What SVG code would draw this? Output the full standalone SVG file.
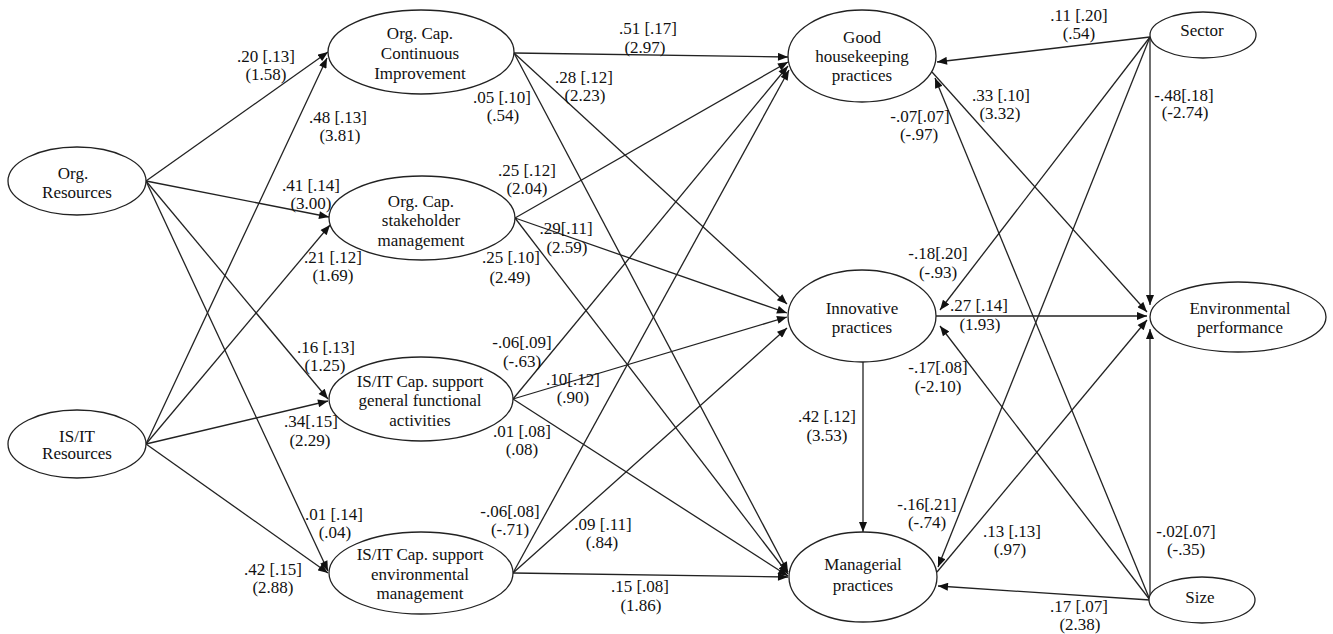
<svg xmlns="http://www.w3.org/2000/svg" width="1333" height="634" viewBox="0 0 1333 634">
<style>
.node ellipse{fill:#fff;stroke:#222;stroke-width:1.3}
.node text{font-size:17px;fill:#111;text-anchor:middle}
.edge line{stroke:#222;stroke-width:1.3;marker-end:url(#arr)}
.lbl text{font-size:17px;fill:#111;text-anchor:middle}
text{font-family:Liberation Serif,Times New Roman,Times,DejaVu Serif,Noto Serif,serif}
</style>
<defs>
<marker id="arr" viewBox="0 0 10 8" refX="10" refY="4" markerWidth="11" markerHeight="8" markerUnits="userSpaceOnUse" orient="auto"><path d="M0,0 L10,4 L0,8 z" fill="#111"/></marker>
</defs>
<rect width="1333" height="634" fill="#fff"/>
<g id="connectors" class="edge">
<line x1="146" y1="181" x2="328" y2="52"/>
<line x1="146" y1="181" x2="329" y2="217"/>
<line x1="146" y1="181" x2="328" y2="399"/>
<line x1="146" y1="181" x2="328" y2="571"/>
<line x1="146" y1="444" x2="327" y2="58"/>
<line x1="146" y1="444" x2="330" y2="225"/>
<line x1="146" y1="444" x2="328" y2="401"/>
<line x1="146" y1="444" x2="328" y2="573"/>
<line x1="514" y1="53" x2="788" y2="57"/>
<line x1="514" y1="53" x2="787" y2="304"/>
<line x1="514" y1="53" x2="788" y2="572"/>
<line x1="515" y1="218" x2="788" y2="62"/>
<line x1="515" y1="218" x2="787" y2="313"/>
<line x1="515" y1="218" x2="788" y2="574"/>
<line x1="513" y1="399" x2="788" y2="66"/>
<line x1="513" y1="399" x2="787" y2="317"/>
<line x1="513" y1="399" x2="788" y2="576"/>
<line x1="513" y1="573" x2="789" y2="70"/>
<line x1="513" y1="573" x2="787" y2="328"/>
<line x1="513" y1="573" x2="788" y2="577"/>
<line x1="863" y1="362" x2="863" y2="532"/>
<line x1="1150" y1="37" x2="937" y2="62"/>
<line x1="1150" y1="37" x2="1150" y2="305"/>
<line x1="1150" y1="37" x2="940" y2="310"/>
<line x1="1150" y1="37" x2="938" y2="567"/>
<line x1="1150" y1="600" x2="935" y2="78"/>
<line x1="1150" y1="600" x2="1150" y2="329"/>
<line x1="1150" y1="600" x2="940" y2="326"/>
<line x1="1150" y1="600" x2="938" y2="586"/>
<line x1="932" y1="72" x2="1147" y2="312"/>
<line x1="936" y1="316" x2="1147" y2="316"/>
<line x1="937" y1="572" x2="1147" y2="320"/>
</g>
<g id="edge-labels" class="lbl">
<text x="266" y="62">.20 [.13]<tspan x="266" y="80">(1.58)</tspan></text>
<text x="338" y="123">.48 [.13]<tspan x="340" y="141">(3.81)</tspan></text>
<text x="311" y="191">.41 [.14]<tspan x="311" y="209">(3.00)</tspan></text>
<text x="333" y="263">.21 [.12]<tspan x="333" y="281">(1.69)</tspan></text>
<text x="326" y="353">.16 [.13]<tspan x="325" y="371">(1.25)</tspan></text>
<text x="311" y="427">.34[.15]<tspan x="310" y="446">(2.29)</tspan></text>
<text x="334" y="520">.01 [.14]<tspan x="335" y="538">(.04)</tspan></text>
<text x="273" y="575">.42 [.15]<tspan x="273" y="593">(2.88)</tspan></text>
<text x="648" y="34">.51 [.17]<tspan x="645" y="53">(2.97)</tspan></text>
<text x="584" y="83">.28 [.12]<tspan x="585" y="101">(2.23)</tspan></text>
<text x="502" y="103">.05 [.10]<tspan x="503" y="121">(.54)</tspan></text>
<text x="527" y="176">.25 [.12]<tspan x="527" y="194">(2.04)</tspan></text>
<text x="566" y="234">.29[.11]<tspan x="567" y="253">(2.59)</tspan></text>
<text x="511" y="263">.25 [.10]<tspan x="510" y="283">(2.49)</tspan></text>
<text x="522" y="348">-.06[.09]<tspan x="522" y="367">(-.63)</tspan></text>
<text x="573" y="385">.10[.12]<tspan x="573" y="403">(.90)</tspan></text>
<text x="522" y="437">.01 [.08]<tspan x="522" y="455">(.08)</tspan></text>
<text x="510" y="517">-.06[.08]<tspan x="510" y="535">(-.71)</tspan></text>
<text x="603" y="530">.09 [.11]<tspan x="602" y="548">(.84)</tspan></text>
<text x="640" y="592">.15 [.08]<tspan x="641" y="611">(1.86)</tspan></text>
<text x="827" y="422">.42 [.12]<tspan x="827" y="441">(3.53)</tspan></text>
<text x="920" y="122">-.07[.07]<tspan x="919" y="140">(-.97)</tspan></text>
<text x="1001" y="101">.33 [.10]<tspan x="1000" y="119">(3.32)</tspan></text>
<text x="938" y="259">-.18[.20]<tspan x="938" y="278">(-.93)</tspan></text>
<text x="979" y="311">.27 [.14]<tspan x="980" y="330">(1.93)</tspan></text>
<text x="938" y="373">-.17[.08]<tspan x="938" y="392">(-2.10)</tspan></text>
<text x="927" y="510">-.16[.21]<tspan x="927" y="528">(-.74)</tspan></text>
<text x="1012" y="537">.13 [.13]<tspan x="1010" y="555">(.97)</tspan></text>
<text x="1079" y="21">.11 [.20]<tspan x="1079" y="39">(.54)</tspan></text>
<text x="1184" y="101">-.48[.18]<tspan x="1185" y="118">(-2.74)</tspan></text>
<text x="1186" y="537">-.02[.07]<tspan x="1186" y="555">(-.35)</tspan></text>
<text x="1079" y="612">.17 [.07]<tspan x="1080" y="630">(2.38)</tspan></text>
</g>
<g id="org-resources" class="node"><ellipse cx="77" cy="181" rx="69" ry="34"/><text x="73" y="179">Org.</text><text x="77" y="198">Resources</text></g>
<g id="isit-resources" class="node"><ellipse cx="77" cy="444" rx="69" ry="34"/><text x="77" y="442">IS/IT</text><text x="77" y="459">Resources</text></g>
<g id="orgcap-ci" class="node"><ellipse cx="421" cy="52" rx="93" ry="42"/><text x="420" y="39">Org. Cap.</text><text x="420" y="59">Continuous</text><text x="420" y="79">Improvement</text></g>
<g id="orgcap-sm" class="node"><ellipse cx="422" cy="218" rx="93" ry="42"/><text x="421" y="207">Org. Cap.</text><text x="421" y="226">stakeholder</text><text x="421" y="246">management</text></g>
<g id="isitcap-gfa" class="node"><ellipse cx="421" cy="399" rx="92" ry="42"/><text x="420" y="387">IS/IT Cap. support</text><text x="420" y="406">general functional</text><text x="420" y="426">activities</text></g>
<g id="isitcap-em" class="node"><ellipse cx="421" cy="573" rx="92" ry="41"/><text x="420" y="560">IS/IT Cap. support</text><text x="420" y="580">environmental</text><text x="420" y="599">management</text></g>
<g id="good-housekeeping" class="node"><ellipse cx="862" cy="56" rx="74" ry="46"/><text x="862" y="43">Good</text><text x="862" y="62">housekeeping</text><text x="862" y="81">practices</text></g>
<g id="innovative" class="node"><ellipse cx="862" cy="316" rx="74" ry="46"/><text x="862" y="314">Innovative</text><text x="862" y="333">practices</text></g>
<g id="managerial" class="node"><ellipse cx="863" cy="577" rx="74" ry="45"/><text x="863" y="570">Managerial</text><text x="863" y="591">practices</text></g>
<g id="sector" class="node"><ellipse cx="1203" cy="35" rx="53" ry="23"/><text x="1202" y="36">Sector</text></g>
<g id="environmental" class="node"><ellipse cx="1238" cy="317" rx="88" ry="35"/><text x="1240" y="314">Environmental</text><text x="1240" y="333">performance</text></g>
<g id="size" class="node"><ellipse cx="1202" cy="600" rx="53" ry="23"/><text x="1200" y="603">Size</text></g>
</svg>
